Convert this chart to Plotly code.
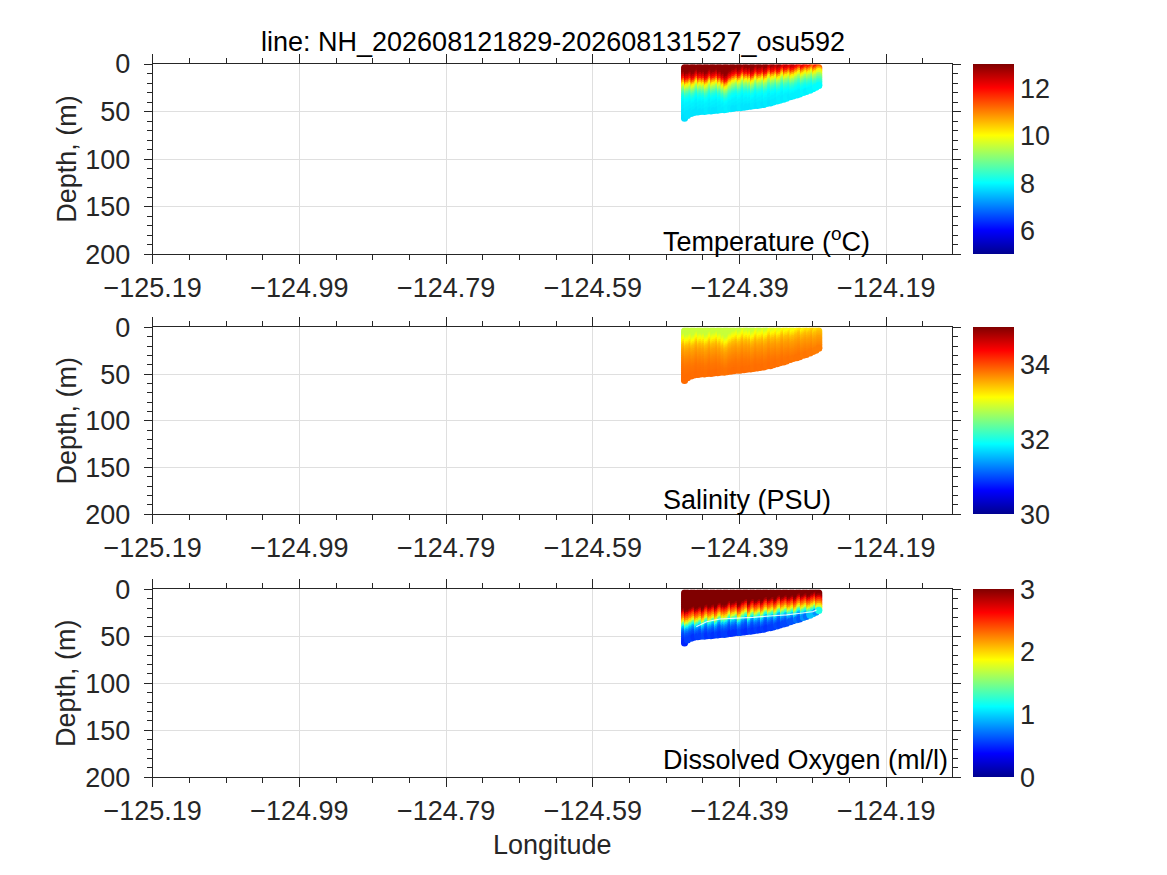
import plotly.graph_objects as go

# ---------------- data ----------------
prof_lon = [-124.465, -124.461, -124.456, -124.452, -124.447, -124.443, -124.438,
            -124.434, -124.429, -124.425, -124.420, -124.416, -124.411, -124.407,
            -124.402, -124.398, -124.393, -124.389, -124.384, -124.380, -124.375,
            -124.371, -124.366, -124.362, -124.357, -124.353, -124.348, -124.344,
            -124.339, -124.335, -124.330, -124.326, -124.321, -124.317, -124.312,
            -124.308, -124.303, -124.299, -124.294, -124.290, -124.286, -124.282]
prof_bottom = [57, 54, 52, 51, 50.5, 50, 50, 49.5, 49.5, 49, 48.5, 48, 48, 47.5,
               47, 46.5, 46, 46, 45.5, 45, 44.5, 44, 43.5, 43, 42.5, 41.5, 41, 40,
               39, 38, 37, 36, 34.5, 33.5, 32.5, 31.5, 30, 29, 27.5, 26, 24.5, 22.5]
# vertical displacement of each profile's structure, in 2 m levels
temp_shift = [2, 3, 2, 3, 1, 2, 2, 3, 1, 2, 1, 2, 3, 4, 2, 1, 0, 1, -1, 0, 0,
              1, -1, 0, -1, 0, -2, -1, -2, -1, -3, -2, -3, -2, -3, -4, -3, -4,
              -4, -5, -4, -5]
oxy_shift = [4, 5, 4, 3, 4, 3, 4, 2, 3, 2, 3, 1, 2, 2, 0, 1, 0, 2, 0, -1, 1,
             -1, 0, -1, 0, -2, -1, -2, -1, -3, -2, -3, -2, -3, -2, -4, -3, -4,
             -3, -4, -5, -4]

depth_levels = [4, 6, 8, 10, 12, 14, 16, 18, 20, 22, 24, 26, 28, 30, 32, 34, 36,
                38, 40, 42, 44, 46, 48, 50, 52, 54, 56, 58]
temp_profile = [12.9, 12.8, 12.5, 12.2, 11.8, 11.2, 10.6, 10.1, 9.7, 9.3, 9.0, 8.7,
                8.45, 8.25, 8.1, 8.0, 7.95, 7.9, 7.9, 7.85, 7.85, 7.8, 7.8, 7.8,
                7.75, 7.75, 7.7, 7.7]
sal_profile = [32.85, 32.95, 33.05, 33.15, 33.25, 33.35, 33.45, 33.5, 33.55, 33.6,
               33.63, 33.66, 33.69, 33.72, 33.74, 33.76, 33.78, 33.8, 33.81, 33.82,
               33.83, 33.84, 33.85, 33.85, 33.85, 33.85, 33.85, 33.85]
oxy_profile = [3.6, 3.5, 3.4, 3.3, 3.2, 3.1, 2.9, 2.7, 2.5, 2.35, 2.2, 2.0, 1.75,
               1.45, 1.2, 0.95, 0.8, 0.7, 0.62, 0.58, 0.55, 0.52, 0.5, 0.48, 0.46,
               0.44, 0.42, 0.4]

oxy_line_lon = [-124.449, -124.435, -124.417, -124.394, -124.372, -124.349,
                -124.326, -124.304, -124.290, -124.285]
oxy_line_depth = [39.8, 34.5, 31.6, 30.9, 29.8, 28.4, 27.3, 25.2, 23.8, 22.0]

x_ticks = [-125.19, -124.99, -124.79, -124.59, -124.39, -124.19]
y_ticks = [0, 50, 100, 150, 200]
temp_ticks = [6, 8, 10, 12]
sal_ticks = [30, 32, 34]
oxy_ticks = [0, 1, 2, 3]

title_text = "line: NH_202608121829-202608131527_osu592"
panel_labels = ["Temperature (<sup>o</sup>C)", "Salinity (PSU)", "Dissolved Oxygen (ml/l)"]

# ---------------- helpers ----------------
OFF = 8                      # page body margin of the html
W, H = 1167 - OFF, 875 - OFF
FONT = "Liberation Sans, Arial, Helvetica, sans-serif"
AX = "rgb(38,38,38)"
JET = [[0.0, "rgb(0,0,143)"], [0.125, "rgb(0,0,255)"], [0.375, "rgb(0,255,255)"],
       [0.625, "rgb(255,255,0)"], [0.875, "rgb(255,0,0)"], [1.0, "rgb(128,0,0)"]]


def px(x):
    return (x - OFF) / W


def py(y):
    return 1 - (y - OFF) / H


def build(profile, shifts):
    xs, ys, cs = [], [], []
    for lon, bot, sh in zip(prof_lon, prof_bottom, shifts):
        for j, d in enumerate(depth_levels):
            if d >= bot:
                break
            k = min(max(j - sh, 0), len(profile) - 1)
            xs.append(lon); ys.append(d); cs.append(profile[k])
        k = min(max(j - sh, 0), len(profile) - 1)
        xs.append(lon); ys.append(bot); cs.append(profile[k])
    return xs, ys, cs


left_px, right_px = 152.7, 952.3
panels_px = [(64.0, 254.3), (327.3, 514.3), (589.3, 777.3)]
cb_ranges = [(5, 13, temp_ticks), (30, 35, sal_ticks), (0, 3, oxy_ticks)]
profiles = [(temp_profile, temp_shift), (sal_profile, temp_shift), (oxy_profile, oxy_shift)]

fig = go.Figure()
for i, ((prof, shifts), (cmin, cmax, cticks), (tp, bp)) in enumerate(zip(profiles, cb_ranges, panels_px)):
    xs, ys, cs = build(prof, shifts)
    ax = "" if i == 0 else str(i + 1)
    fig.add_trace(go.Scatter(
        x=xs, y=ys, mode="markers", xaxis="x" + ax, yaxis="y" + ax,
        showlegend=False, hoverinfo="skip",
        marker=dict(size=7, color=cs, colorscale=JET, cmin=cmin, cmax=cmax,
                    line=dict(width=0),
                    colorbar=dict(x=px(973), xanchor="left", xpad=0, ypad=0,
                                  thickness=41, thicknessmode="pixels",
                                  len=(bp - tp) / H, lenmode="fraction",
                                  y=py(bp), yanchor="bottom",
                                  outlinewidth=0, tickvals=cticks, ticks="",
                                  tickfont=dict(family=FONT, size=27, color=AX)))))
    fig.update_layout(**{
        "xaxis" + ax: dict(domain=[px(left_px), px(right_px)], range=[-125.19, -124.10],
                           anchor="y" + ax, tickvals=x_ticks, tickformat=".2f",
                           ticks="outside", ticklen=9, tickcolor=AX, showline=True,
                           linecolor=AX, linewidth=1, mirror="ticks", showgrid=True,
                           gridcolor="rgb(223,223,223)", zeroline=False,
                           tickfont=dict(family=FONT, size=27, color=AX),
                           minor=dict(ticks="outside", ticklen=5, dtick=0.05,
                                      tick0=-125.19, tickcolor=AX, showgrid=False)),
        "yaxis" + ax: dict(domain=[py(bp), py(tp)], range=[200, 0], anchor="x" + ax,
                           tickvals=y_ticks, ticks="outside", ticklen=8, tickcolor=AX,
                           ticklabelstandoff=8,
                           showline=True, linecolor=AX, linewidth=1, mirror="ticks",
                           showgrid=True, gridcolor="rgb(223,223,223)", zeroline=False,
                           tickfont=dict(family=FONT, size=27, color=AX),
                           minor=dict(ticks="outside", ticklen=5, dtick=10, tick0=0,
                                      tickcolor=AX, showgrid=False)),
    })

fig.add_trace(go.Scatter(x=oxy_line_lon, y=oxy_line_depth, mode="lines",
                         xaxis="x3", yaxis="y3", showlegend=False, hoverinfo="skip",
                         line=dict(color="rgba(255,255,255,0.85)", width=1.2)))

ann = []
label_centers = [240.0, 500.0, 760.0]
for lbl, yc in zip(panel_labels, label_centers):
    ann.append(dict(text=lbl, x=px(660.7), y=py(yc), xref="paper", yref="paper",
                    xanchor="left", yanchor="middle", showarrow=False,
                    font=dict(family=FONT, size=27, color="black")))
for tp, bp in panels_px:
    ann.append(dict(text="Depth, (m)", x=px(66.7), y=py((tp + bp) / 2),
                    xref="paper", yref="paper", xanchor="center", yanchor="middle",
                    textangle=-90, showarrow=False,
                    font=dict(family=FONT, size=27, color=AX)))
ann.append(dict(text="Longitude", x=px(552.5), y=py(845), xref="paper", yref="paper",
                xanchor="center", yanchor="middle", showarrow=False,
                font=dict(family=FONT, size=27, color=AX)))
ann.append(dict(text=title_text, x=px(552.5), y=py(42), xref="paper", yref="paper",
                xanchor="center", yanchor="middle", showarrow=False,
                font=dict(family=FONT, size=27, color="black")))

fig.update_layout(width=W, height=H, paper_bgcolor="white", plot_bgcolor="white",
                  margin=dict(l=0, r=0, t=0, b=0, pad=0, autoexpand=False),
                  annotations=ann, font=dict(family=FONT, size=27, color=AX))

fig.write_html("out.html")
